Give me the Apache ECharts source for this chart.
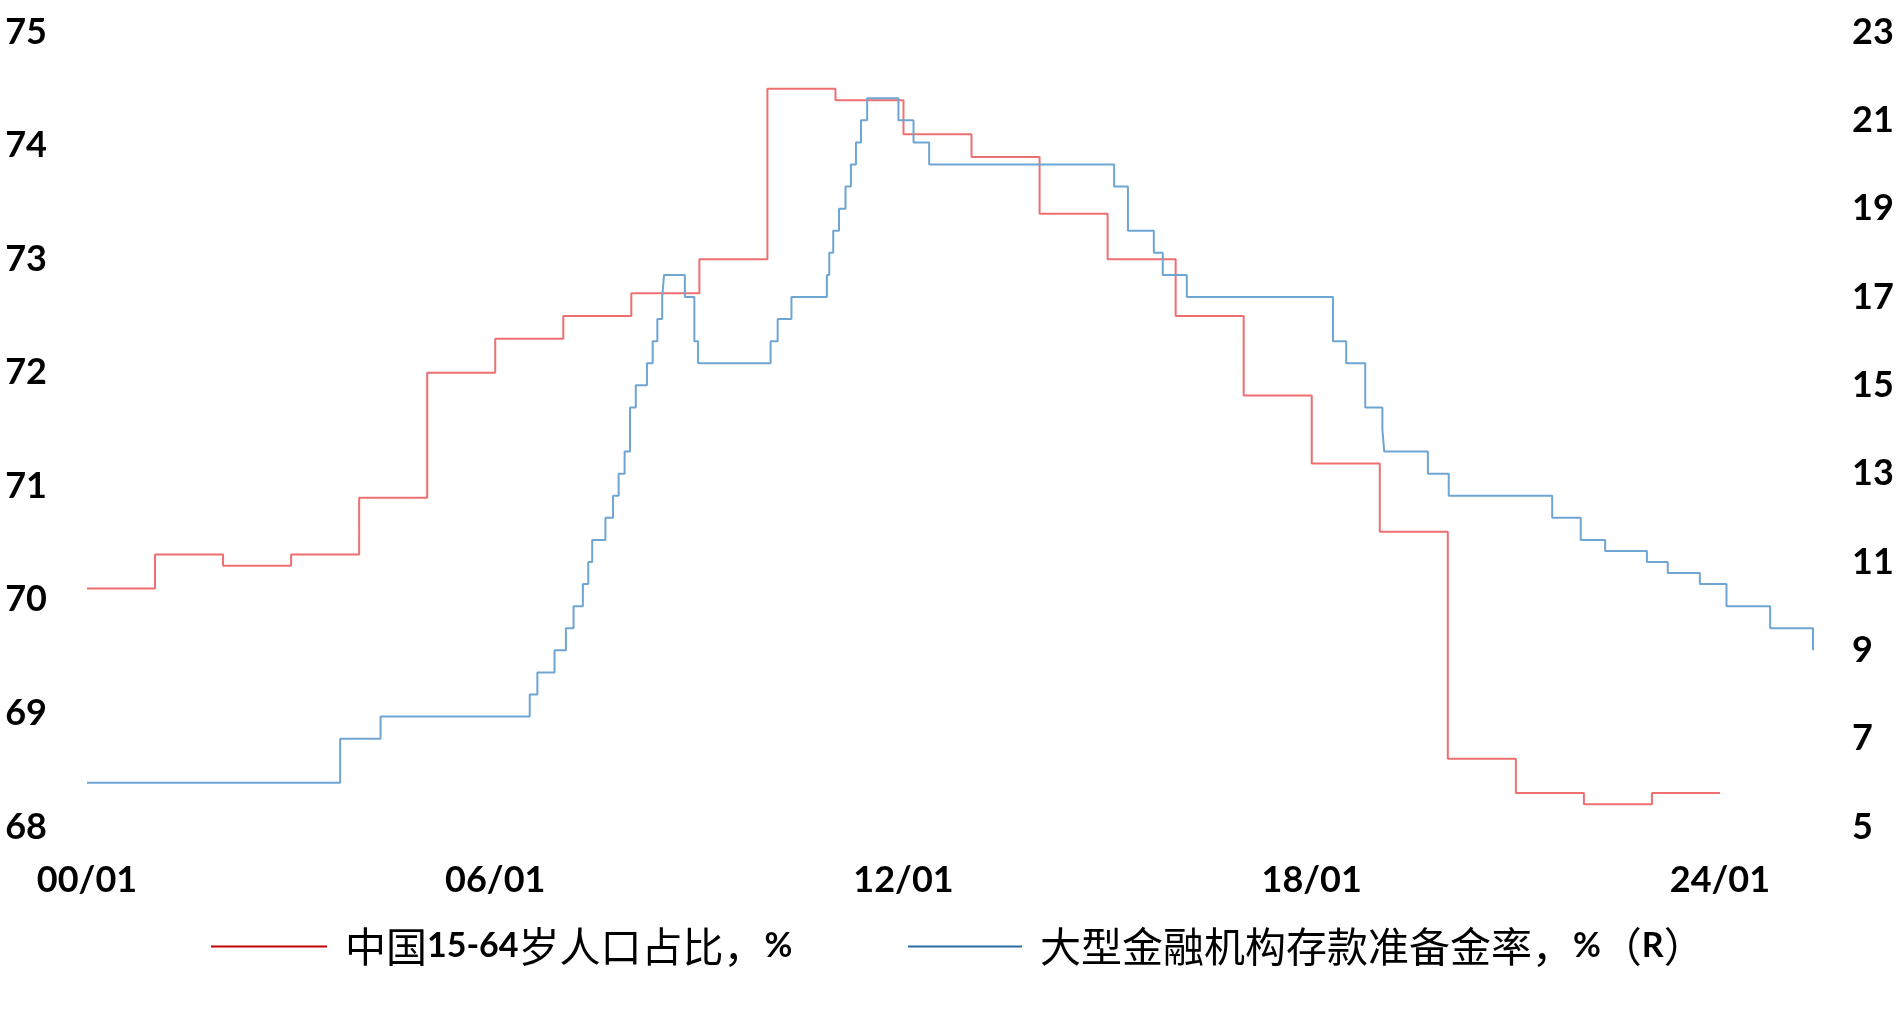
<!DOCTYPE html>
<html>
<head>
<meta charset="utf-8">
<script src="https://cdn.jsdelivr.net/npm/echarts@6/dist/echarts.min.js"></script>
<style>
html,body{margin:0;padding:0;background:#fff;}
#chart{width:1903px;height:1017px;}
</style>
</head>
<body>
<div id="chart"></div>
<script>
// ---- data ----
const popName = '中国15-64岁人口占比，%';
const rrrName = '大型金融机构存款准备金率，%（R）';

const popYears = [2000,2001,2002,2003,2004,2005,2006,2007,2008,2009,2010,2011,
                  2012,2013,2014,2015,2016,2017,2018,2019,2020,2021,2022,2023];
const popValues = [70.1,70.4,70.3,70.4,70.9,72.0,72.3,72.5,72.7,73.0,74.5,74.4,
                   74.1,73.9,73.4,73.0,72.5,71.8,71.2,70.6,68.6,68.3,68.2,68.3];

const rrrDates = ['2000-01-01','2003-09-21','2004-04-25','2006-07-05','2006-08-15','2006-11-15',
  '2007-01-15','2007-02-25','2007-04-16','2007-05-15','2007-06-05','2007-08-15','2007-09-25',
  '2007-10-25','2007-11-26','2007-12-25','2008-01-25','2008-03-25','2008-04-25','2008-05-20',
  '2008-06-15','2008-06-25','2008-10-15','2008-12-05','2008-12-25','2010-01-18','2010-02-25',
  '2010-05-10','2010-11-16','2010-11-29','2010-12-20','2011-01-20','2011-02-24','2011-03-25',
  '2011-04-21','2011-05-18','2011-06-20','2011-12-05','2012-02-24','2012-05-18','2015-02-05',
  '2015-04-20','2015-09-06','2015-10-24','2016-03-01','2018-04-25','2018-07-05','2018-10-15',
  '2019-01-15','2019-01-25','2019-09-16','2020-01-06','2021-07-15','2021-12-15','2022-04-25',
  '2022-12-05','2023-03-27','2023-09-15','2024-02-05','2024-09-27','2025-05-15'];
const rrrValues = [6,7,7.5,8,8.5,9,
  9.5,10,10.5,11,11.5,12,12.5,
  13,13.5,14.5,15,15.5,16,16.5,
  17,17.5,17,16,15.5,16,16.5,
  17,17.5,18,18.5,19,19.5,20,
  20.5,21,21.5,21,20.5,20,19.5,
  18.5,18,17.5,17,16,15.5,14.5,
  14,13.5,13,12.5,12,11.5,11.25,
  11,10.75,10.5,10,9.5,9];

const leftTicks = {min: 68, max: 75, interval: 1};
const rightTicks = {min: 5, max: 23, interval: 2};
const xTicks = {min: 2000, interval: 6};

// ---- helpers ----
function toYear(s){
  const p = s.split('-').map(Number);
  const a = Date.UTC(p[0],0,1), b = Date.UTC(p[0]+1,0,1);
  return p[0] + (Date.UTC(p[0],p[1]-1,p[2]) - a)/(b - a);
}
const popData = popYears.map((y,i)=>[y, popValues[i]]);
// extend the last annual step to the end of its year
popData.push([popYears[popYears.length-1]+1, popValues[popValues.length-1]]);
const rrrData = rrrDates.map((d,i)=>[toYear(d), rrrValues[i]]);

const latin = 'Lato, "Liberation Sans", sans-serif';
const cjk = '"Noto Sans CJK SC", sans-serif';
const axisLabelStyle = {color:'#000', fontFamily: latin, fontWeight:'bold', fontSize:36};

const richStyles = {
  g: {width: 13},
  c: {fontFamily: cjk, fontSize: 41, color:'#000', lineHeight: 48},
  b: {fontFamily: latin, fontSize: 34, fontWeight:'bold', color:'#000', lineHeight: 48}
};
const legendText = {};
legendText[popName] = '{g|}{c|中国}{b|15-64}{c|岁人口占比，}{b|%}';
legendText[rrrName] = '{g|}{c|大型金融机构存款准备金率，}{b|%}{c|（}{b|R}{c|）}';

const chart = echarts.init(document.getElementById('chart'));
chart.setOption({
  animation: false,
  backgroundColor: '#fff',
  grid: {left: 87, right: 90, top: 32, bottom: 190, containLabel: false},
  legend: [
    {data:[{name: popName, icon:'rect'}],
     itemStyle:{color:'#C00000', borderWidth:0}, lineStyle:{color:'#C00000'},
     left: 211, top: 926, padding: 0, itemWidth: 116, itemHeight: 2,
     textStyle:{rich: richStyles}, formatter: n => legendText[n]},
    {data:[{name: rrrName, icon:'rect'}],
     itemStyle:{color:'#2E6DA4', borderWidth:0}, lineStyle:{color:'#2E6DA4'},
     left: 908, top: 926, padding: 0, itemWidth: 114, itemHeight: 2,
     textStyle:{rich: richStyles}, formatter: n => legendText[n]}
  ],
  xAxis: {
    type: 'value', min: xTicks.min, max: 'dataMax', interval: xTicks.interval,
    axisLine:{show:false}, axisTick:{show:false}, splitLine:{show:false},
    axisLabel: Object.assign({margin: 35, showMaxLabel: false,
      formatter: v => String(Math.round(v) % 100).padStart(2,'0') + '/01'}, axisLabelStyle)
  },
  yAxis: [
    {type:'value', min: leftTicks.min, max: leftTicks.max, interval: leftTicks.interval,
     axisLine:{show:false}, axisTick:{show:false}, splitLine:{show:false},
     axisLabel: Object.assign({margin: 40}, axisLabelStyle)},
    {type:'value', position:'right', min: rightTicks.min, max: rightTicks.max, interval: rightTicks.interval,
     axisLine:{show:false}, axisTick:{show:false}, splitLine:{show:false},
     axisLabel: Object.assign({margin: 39}, axisLabelStyle)}
  ],
  series: [
    {name: popName, type:'line', step:'end', yAxisIndex:0, symbol:'none',
     lineStyle:{color:'#EE6F6F', width:2}, itemStyle:{color:'#C00000'}, data: popData},
    {name: rrrName, type:'line', step:'end', yAxisIndex:1, symbol:'none',
     lineStyle:{color:'#6FA5D2', width:2}, itemStyle:{color:'#2E6DA4'}, data: rrrData}
  ]
});
</script>
</body>
</html>
